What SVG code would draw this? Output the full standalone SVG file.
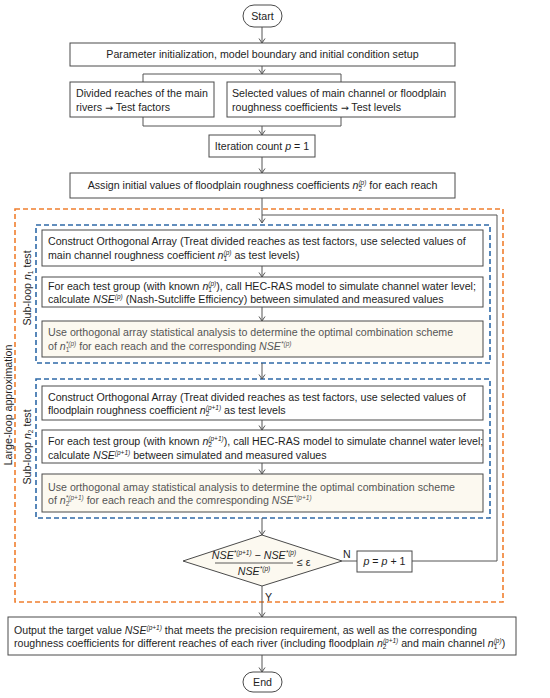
<svg xmlns="http://www.w3.org/2000/svg" width="550" height="698" viewBox="0 0 550 698">
<defs>
<marker id="ah" markerUnits="userSpaceOnUse" markerWidth="8" markerHeight="8" refX="5" refY="3.5" orient="auto">
<path d="M0.5,0.5 L5,3.5 L0.5,6.5" fill="none" stroke="#555" stroke-width="1"/>
</marker>
</defs>
<style>
.b{fill:#fff;stroke:#4a4a4a;stroke-width:1}
.h{fill:#fcf9f0;stroke:#4a4a4a;stroke-width:1}
.t{font-family:"Liberation Sans",Arial,sans-serif;font-size:10.65px;fill:#1e1e1e}
.o{font-size:10.6px}
.g{fill:#555}
.m{text-anchor:middle}
.i{font-style:italic}
.s{font-size:6.5px}
.ar{font-family:"DejaVu Sans",sans-serif;font-size:9.5px}
.c{fill:none;stroke:#555;stroke-width:1}
.a{marker-end:url(#ah)}
.or{fill:none;stroke:#f07f2f;stroke-width:1.6;stroke-dasharray:5,3}
.bl{fill:none;stroke:#2f6aa8;stroke-width:1.6;stroke-dasharray:5,3}
</style>
<rect x="0" y="0" width="550" height="698" fill="#fff"/>

<g id="regions">
<rect class="or" x="15" y="209" width="488" height="393"/>
<rect class="bl" x="36" y="225" width="454" height="138"/>
<rect class="bl" x="36" y="379" width="454" height="139"/>
<text class="t m" transform="translate(12,405) rotate(-90)">Large-loop approximation</text>
<text class="t m" transform="translate(31,288) rotate(-90)">Sub-loop <tspan class="i">n</tspan><tspan class="s" dy="2">1</tspan><tspan dy="-2"> test</tspan></text>
<text class="t m" transform="translate(31,447) rotate(-90)">Sub-loop <tspan class="i">n</tspan><tspan class="s" dy="2">2</tspan><tspan dy="-2"> test</tspan></text>
</g>

<g id="connectors">
<path class="c a" d="M262,27 V43"/>
<path class="c a" d="M262,66 V74"/>
<path class="c" d="M143,82 V74 H341 V82"/>
<path class="c" d="M143,117 V126 H341 V117"/>
<path class="c a" d="M262,126 V135"/>
<path class="c a" d="M262,157 V173"/>
<path class="c a" d="M262,198 V223"/>
<path class="c a" d="M262,266 V277"/>
<path class="c a" d="M262,307 V321"/>
<path class="c a" d="M262,363 V379"/>
<path class="c a" d="M262,420 V430"/>
<path class="c a" d="M262,463 V474"/>
<path class="c a" d="M262,518 V535"/>
<path class="c" d="M342,561 H357"/>
<path class="c" d="M412,561 H497 V215 H262"/>
<path class="c a" d="M262,586 V617"/>
<path class="c a" d="M262,655 V672"/>
<text class="t" x="343" y="558">N</text>
<text class="t" x="265" y="601">Y</text>
</g>

<g id="start">
<rect class="b" x="243" y="5" width="39" height="22" rx="11"/>
<text class="t m" x="262.5" y="19.5">Start</text>
</g>

<g id="param">
<rect class="b" x="70" y="43" width="385" height="23"/>
<text class="t m" x="262.5" y="58">Parameter initialization, model boundary and initial condition setup</text>
</g>

<g id="reaches">
<rect class="b" x="70" y="82" width="144" height="35"/>
<text class="t" x="76" y="96.5">Divided reaches of the main</text>
<text class="t" x="76" y="110.5">rivers <tspan class="ar">→</tspan> Test factors</text>
</g>

<g id="values">
<rect class="b" x="227" y="82" width="228" height="35"/>
<text class="t" x="232" y="96.5">Selected values of main channel or floodplain</text>
<text class="t" x="232" y="110.5">roughness coefficients <tspan class="ar">→</tspan> Test levels</text>
</g>

<g id="iteration">
<rect class="b" x="209" y="135" width="106" height="22"/>
<text class="t m" x="262" y="149.5">Iteration count <tspan class="i">p</tspan> = 1</text>
</g>

<g id="assign">
<rect class="b" x="70" y="173" width="385" height="25"/>
<text class="t m" x="262.5" y="189">Assign initial values of floodplain roughness coefficients <tspan class="i">n</tspan><tspan class="s" dy="2">2</tspan><tspan class="s i" dx="-3.6" dy="-6">(p)</tspan><tspan dy="4"> for each reach</tspan></text>
</g>

<g id="box1">
<rect class="b" x="42" y="230" width="441" height="36"/>
<text class="t" x="48" y="244.5">Construct Orthogonal Array (Treat divided reaches as test factors, use selected values of</text>
<text class="t" x="48" y="258.5">main channel roughness coefficient <tspan class="i">n</tspan><tspan class="s" dy="2">1</tspan><tspan class="s i" dx="-3.6" dy="-6">(p)</tspan><tspan dy="4"> as test levels)</tspan></text>
</g>

<g id="box2">
<rect class="b" x="42" y="277" width="441" height="30"/>
<text class="t" x="48" y="289.5">For each test group (with known <tspan class="i">n</tspan><tspan class="s" dy="2">1</tspan><tspan class="s i" dx="-3.6" dy="-6">(p)</tspan><tspan dy="4">), call HEC-RAS model to simulate channel water level;</tspan></text>
<text class="t" x="48" y="303">calculate <tspan class="i">NSE</tspan><tspan class="s i" dy="-4">(p)</tspan><tspan dy="4"> (Nash-Sutcliffe Efficiency) between simulated and measured values</tspan></text>
</g>

<g id="box3">
<rect class="h" x="42" y="321" width="441" height="36"/>
<text class="t g" x="48" y="335.5">Use orthogonal array statistical analysis to determine the optimal combination scheme</text>
<text class="t g" x="48" y="349.5">of <tspan class="i">n</tspan><tspan class="s" dy="2">1</tspan><tspan class="s i" dx="-3.6" dy="-6">*(p)</tspan><tspan dy="4"> for each reach and the corresponding </tspan><tspan class="i">NSE</tspan><tspan class="s i" dy="-4">*(p)</tspan></text>
</g>

<g id="box4">
<rect class="b" x="42" y="386" width="441" height="34"/>
<text class="t" x="48" y="400.5">Construct Orthogonal Array (Treat divided reaches as test factors, use selected values of</text>
<text class="t" x="48" y="414">floodplain roughness coefficient <tspan class="i">n</tspan><tspan class="s" dy="2">2</tspan><tspan class="s i" dx="-3.6" dy="-6">(p+1)</tspan><tspan dy="4"> as test levels</tspan></text>
</g>

<g id="box5">
<rect class="b" x="42" y="430" width="441" height="33"/>
<text class="t" x="48" y="445">For each test group (with known <tspan class="i">n</tspan><tspan class="s" dy="2">2</tspan><tspan class="s i" dx="-3.6" dy="-6">(p+1)</tspan><tspan dy="4">), call HEC-RAS model to simulate channel water level;</tspan></text>
<text class="t" x="48" y="458.5">calculate <tspan class="i">NSE</tspan><tspan class="s i" dy="-4">(p+1)</tspan><tspan dy="4"> between simulated and measured values</tspan></text>
</g>

<g id="box6">
<rect class="h" x="42" y="474" width="441" height="38"/>
<text class="t g" x="48" y="490.5">Use orthogonal amay statistical analysis to determine the optimal combination scheme</text>
<text class="t g" x="48" y="504">of <tspan class="i">n</tspan><tspan class="s" dy="2">2</tspan><tspan class="s i" dx="-3.6" dy="-6">*(p+1)</tspan><tspan dy="4"> for each reach and the comresponding </tspan><tspan class="i">NSE</tspan><tspan class="s i" dy="-4">*(p+1)</tspan></text>
</g>

<g id="decision">
<polygon class="h" points="183,561 262,535 342,561 262,586"/>
<text class="t m" x="254" y="559"><tspan class="i">NSE</tspan><tspan class="s i" dy="-4">*(p+1)</tspan><tspan dy="4"> − </tspan><tspan class="i">NSE</tspan><tspan class="s i" dy="-4">*(p)</tspan></text>
<line x1="215" y1="563" x2="293" y2="563" stroke="#333" stroke-width="0.8"/>
<text class="t m" x="254" y="575"><tspan class="i">NSE</tspan><tspan class="s i" dy="-4">*(p)</tspan></text>
<text class="t" x="297" y="566">≤ ε</text>
</g>

<g id="increment">
<rect class="b" x="357" y="551" width="55" height="21"/>
<text class="t m" x="384.5" y="565"><tspan class="i">p</tspan> = <tspan class="i">p</tspan> + 1</text>
</g>

<g id="output">
<rect class="b" x="8" y="617" width="508" height="38"/>
<text class="t o" x="14" y="633.5">Output the target value <tspan class="i">NSE</tspan><tspan class="s i" dy="-4">(p+1)</tspan><tspan dy="4"> that meets the precision requirement, as well as the corresponding</tspan></text>
<text class="t o" x="14" y="647">roughness coefficients for different reaches of each river (including floodplain <tspan class="i">n</tspan><tspan class="s" dy="2">2</tspan><tspan class="s i" dx="-3.6" dy="-6">(p+1)</tspan><tspan dy="4"> and main channel </tspan><tspan class="i">n</tspan><tspan class="s" dy="2">1</tspan><tspan class="s i" dx="-3.6" dy="-6">(p)</tspan><tspan dy="4">)</tspan></text>
</g>

<g id="end">
<rect class="b" x="243" y="672" width="39" height="20" rx="10"/>
<text class="t m" x="262.5" y="685.5">End</text>
</g>
</svg>
